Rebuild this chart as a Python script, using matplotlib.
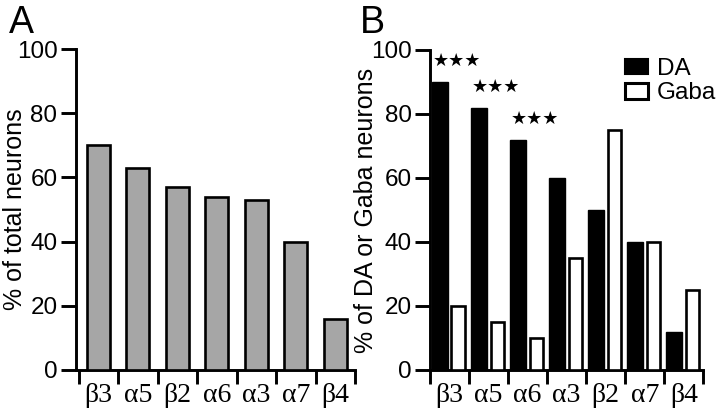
import matplotlib
matplotlib.use("Agg")
import matplotlib.pyplot as plt
from matplotlib.patches import Patch
import numpy as np

plt.rcParams['font.family'] = ['Liberation Sans', 'DejaVu Sans']

# Panel A data
cats_a = ["β3", "α5", "β2", "α6", "α3", "α7", "β4"]
vals_a = [70, 63, 57, 54, 53, 40, 16]

# Panel B data
cats_b = ["β3", "α5", "α6", "α3", "β2", "α7", "β4"]
da_b = [90, 82, 72, 60, 50, 40, 12]
gaba_b = [20, 15, 10, 35, 75, 40, 25]
sig_b = ["***", "***", "***", "", "", "", ""]

yticks = [0, 20, 40, 60, 80, 100]

fig = plt.figure(figsize=(7.2, 4.13), dpi=100)
axA = fig.add_axes([75.5/720, 1-370/413, (355-75.5)/720, (370-49)/413])
axB = fig.add_axes([430/720, 1-370/413, (703.3-430)/720, (370-50)/413])

LW = 2.1
tick_fs = 17.5
xl_fs = 20
yl_fs = 18

def style(ax, cats, xleft):
    n = len(cats)
    ax.set_xlim(xleft, n - 0.5)
    ax.set_ylim(0, 100)
    for s in ['top', 'right']:
        ax.spines[s].set_visible(False)
    for s in ['left', 'bottom']:
        ax.spines[s].set_linewidth(LW)
    ax.set_yticks(yticks)
    ax.set_yticklabels([str(v) for v in yticks], fontsize=tick_fs)
    ax.tick_params(axis='y', direction='out', length=11, width=LW, pad=2)
    x = np.arange(n)
    ax.set_xticks(np.arange(n + 1) - 0.5)
    ax.set_xticklabels([])
    ax.tick_params(axis='x', which='major', direction='out', length=10, width=LW)
    ax.set_xticks(x, minor=True)
    ax.set_xticklabels(cats, minor=True, fontsize=xl_fs, family=['Liberation Serif', 'DejaVu Serif'])
    ax.tick_params(axis='x', which='minor', length=0, pad=9)

# Panel A
xa = np.arange(len(cats_a))
axA.bar(xa, vals_a, width=0.58, color='#a6a6a6', edgecolor='black', linewidth=1.9, zorder=3)
style(axA, cats_a, -0.58)
axA.set_ylabel("% of total neurons", fontsize=yl_fs)
axA.yaxis.set_label_coords((27 - 75.5) / 279.5, 0.5)

# Panel B
xb = np.arange(len(cats_b))
axB.bar(xb - 0.25, da_b, width=0.42, color='black', edgecolor='black', linewidth=1.0, zorder=3, label='DA')
axB.bar(xb + 0.22, gaba_b, width=0.34, color='white', edgecolor='black', linewidth=1.9, zorder=3, label='Gaba')
style(axB, cats_b, -0.5)
axB.set_ylabel("% of DA or Gaba neurons", fontsize=yl_fs)
axB.yaxis.set_label_coords((378 - 430) / 273.3, 0.5)
for i, s in enumerate(sig_b):
    if s:
        axB.text(xb[i] + 0.2, da_b[i] + 6.5, "★★★", ha='center', va='center',
                 fontsize=13, family='DejaVu Sans')

handles = [Patch(facecolor='black', edgecolor='black', linewidth=1.5, label='DA'),
           Patch(facecolor='white', edgecolor='black', linewidth=2.2, label='Gaba')]
fig.legend(handles=handles, loc='upper left', bbox_to_anchor=(625/720, 1-58/413),
           frameon=False, fontsize=17.5, handlelength=0.95, handleheight=0.6,
           handletextpad=0.35, labelspacing=0.1, borderpad=0, borderaxespad=0)

fig.text(9/720, 1-5/413, "A", fontsize=27, ha='left', va='top')
fig.text(360/720, 1-5/413, "B", fontsize=27, ha='left', va='top')

fig.savefig("out.png", dpi=100)
